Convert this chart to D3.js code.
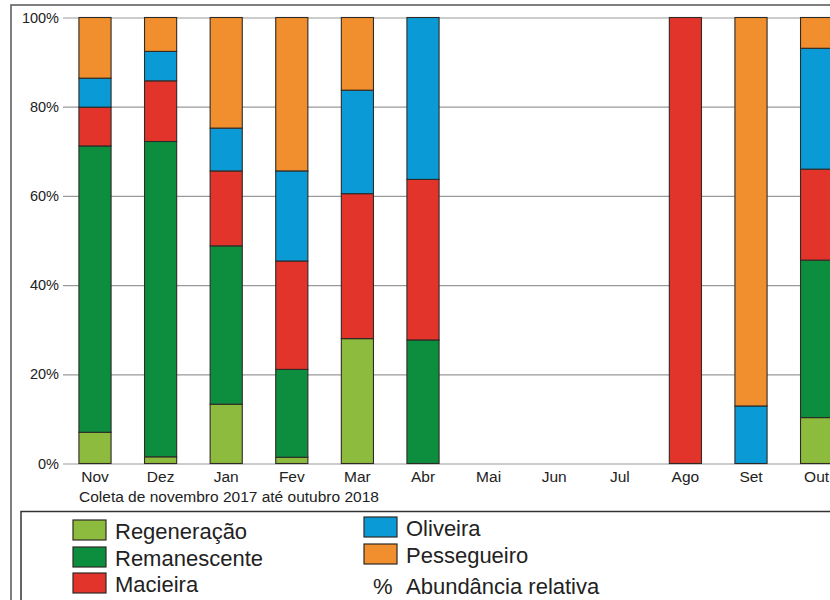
<!DOCTYPE html>
<html>
<head>
<meta charset="utf-8">
<script src="https://cdn.jsdelivr.net/npm/d3@7.9.0/dist/d3.min.js"></script>
<style>
  body { margin: 0; background: #fff; }
  svg { display: block; font-family: "Liberation Sans", Arial, sans-serif; }
</style>
</head>
<body>
<svg id="chart" width="830" height="600"></svg>
<script>
// months of collection (Nov 2017 - Oct 2018)
const months = ['Nov', 'Dez', 'Jan', 'Fev', 'Mar', 'Abr', 'Mai', 'Jun', 'Jul', 'Ago', 'Set', 'Out'];

// relative abundance (%) per habitat
const regeneracao  = [7.0, 1.5, 13.3, 1.4, 28.0, 0, 0, 0, 0, 0, 0, 10.3];
const remanescente = [64.2, 70.7, 35.5, 19.7, 0, 27.7, 0, 0, 0, 0, 0, 35.3];
const macieira     = [8.7, 13.6, 16.8, 24.3, 32.5, 36.0, 0, 0, 0, 100, 0, 20.4];
const oliveira     = [6.5, 6.6, 9.6, 20.2, 23.2, 36.3, 0, 0, 0, 0, 12.9, 27.1];
const pessegueiro  = [13.6, 7.6, 24.8, 34.4, 16.3, 0, 0, 0, 0, 0, 87.1, 6.9];

const yTicks = [0, 20, 40, 60, 80, 100];

const seriesNames = ['Regeneração', 'Remanescente', 'Macieira', 'Oliveira', 'Pessegueiro'];
const seriesColors = ['#8dbb3e', '#0d8e3e', '#e3342c', '#0a9bd6', '#f18f2e'];

const rows = months.map((m, i) => ({
  month: m,
  'Regeneração': regeneracao[i],
  'Remanescente': remanescente[i],
  'Macieira': macieira[i],
  'Oliveira': oliveira[i],
  'Pessegueiro': pessegueiro[i]
}));

const svg = d3.select('#chart');

// outer frame (runs off the right/bottom edge)
svg.append('rect')
  .attr('x', 11).attr('y', 5)
  .attr('width', 900).attr('height', 700)
  .attr('fill', 'none')
  .attr('stroke', '#555')
  .attr('stroke-width', 1.5);

const x = d3.scaleBand()
  .domain(months)
  .range([62.2, 849.4])
  .paddingInner(0.51)
  .paddingOuter(0.255);

const y = d3.scaleLinear()
  .domain([0, 100])
  .range([463.5, 17.5]);

const color = d3.scaleOrdinal().domain(seriesNames).range(seriesColors);

// y axis with gridlines
const yAxis = svg.append('g')
  .attr('transform', 'translate(63,0)')
  .call(d3.axisLeft(y)
    .tickValues(yTicks)
    .tickFormat(d => d + '%')
    .tickSize(-800)
    .tickPadding(4));
yAxis.select('.domain').remove();
yAxis.selectAll('line').attr('stroke', '#9a9a9a').attr('stroke-width', 1.2);
yAxis.selectAll('text')
  .attr('font-size', 14.5)
  .attr('fill', '#222')
  .attr('font-family', '"Liberation Sans", Arial, sans-serif');

// stacked bars
const stack = d3.stack().keys(seriesNames);
const layers = stack(rows);

svg.append('g')
  .selectAll('g')
  .data(layers)
  .join('g')
  .attr('fill', d => color(d.key))
  .selectAll('rect')
  .data(d => d.filter(s => s[1] - s[0] > 0))
  .join('rect')
  .attr('x', d => x(d.data.month))
  .attr('y', d => y(d[1]))
  .attr('width', x.bandwidth())
  .attr('height', d => y(d[0]) - y(d[1]))
  .attr('stroke', '#2e2a26')
  .attr('stroke-width', 1.1);

// x axis labels
const xAxis = svg.append('g')
  .attr('transform', `translate(0,${y(0)})`)
  .call(d3.axisBottom(x).tickSize(0).tickPadding(7));
xAxis.select('.domain').remove();
xAxis.selectAll('text')
  .attr('font-size', 15.5)
  .attr('fill', '#222')
  .attr('font-family', '"Liberation Sans Narrow", "Liberation Sans", Arial, sans-serif');

svg.append('text')
  .attr('x', 79).attr('y', 502)
  .attr('font-size', 15.5)
  .attr('fill', '#222')
  .attr('font-family', '"Liberation Sans Narrow", "Liberation Sans", Arial, sans-serif')
  .text('Coleta de novembro 2017 até outubro 2018');

// legend box
svg.append('rect')
  .attr('x', 21).attr('y', 511.5)
  .attr('width', 900).attr('height', 200)
  .attr('fill', 'none')
  .attr('stroke', '#333')
  .attr('stroke-width', 1.5);

const legendPos = [
  { x: 73, y: 520 },
  { x: 73, y: 547 },
  { x: 73, y: 573 },
  { x: 364, y: 517 },
  { x: 364, y: 544 }
];

const legend = svg.append('g')
  .selectAll('g')
  .data(seriesNames)
  .join('g')
  .attr('transform', (d, i) => `translate(${legendPos[i].x},${legendPos[i].y})`);

legend.append('rect')
  .attr('width', 33).attr('height', 20)
  .attr('fill', d => color(d))
  .attr('stroke', '#2e2a26')
  .attr('stroke-width', 1.2);

legend.append('text')
  .attr('x', 42).attr('y', 19)
  .attr('font-size', 22)
  .attr('fill', '#222')
  .text(d => d);

svg.append('text')
  .attr('x', 373).attr('y', 594)
  .attr('font-size', 22)
  .attr('fill', '#222')
  .text('%');
svg.append('text')
  .attr('x', 406).attr('y', 594)
  .attr('font-size', 22)
  .attr('fill', '#222')
  .text('Abundância relativa');
</script>
</body>
</html>
